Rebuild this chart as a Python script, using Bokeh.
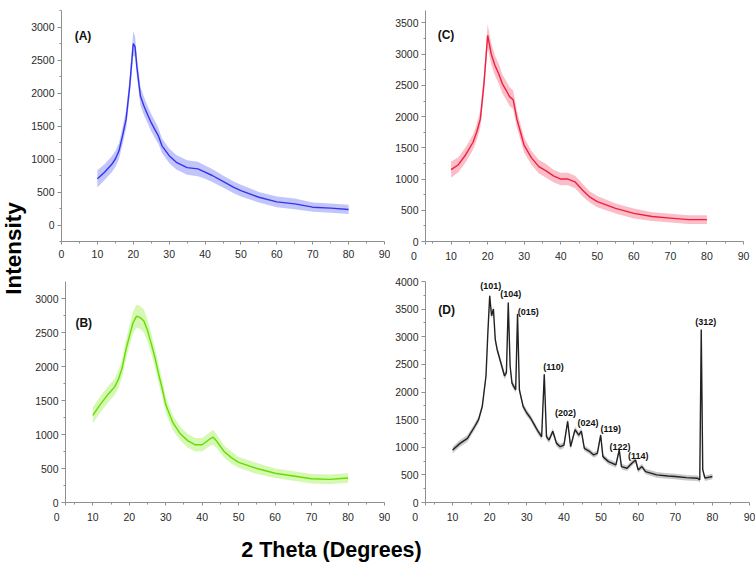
import math
from bokeh.plotting import figure
from bokeh.layouts import row, column
from bokeh.models import Range1d, FixedTicker
from bokeh.core.properties import value
from bokeh.embed import file_html
from bokeh.resources import INLINE

# ---------------- data ----------------
A_x = [10, 12, 14, 15, 16, 17, 18, 19, 20, 20.5, 21, 22, 23, 24, 25, 26, 27, 28, 30, 32,
       35, 38, 40, 42, 45, 48, 50, 55, 60, 65, 70, 75, 80]
A_y = [700, 800, 920, 1000, 1120, 1350, 1600, 2100, 2750, 2700, 2400, 1950, 1800, 1670, 1550,
       1450, 1350, 1200, 1050, 950, 870, 850, 800, 750, 660, 570, 520, 420, 350, 320, 270, 255, 235]
A_s = [130, 120, 120, 120, 120, 130, 140, 150, 180, 160, 150, 140, 140, 130, 130, 130, 120, 110,
       110, 110, 110, 110, 100, 100, 90, 90, 90, 80, 80, 80, 70, 70, 70]

B_x = [10, 12, 14, 16, 17, 18, 19, 20, 21, 22, 23, 24, 25, 26, 27, 28, 29, 30, 31, 32,
       34, 36, 38, 40, 42, 43, 44, 46, 48, 50, 55, 60, 65, 70, 75, 80]
B_y = [1280, 1440, 1580, 1700, 1810, 1970, 2230, 2440, 2640, 2740, 2720, 2670, 2530, 2340, 2140,
       1900, 1680, 1440, 1300, 1170, 1010, 910, 850, 850, 930, 960, 900, 750, 660, 590,
       500, 430, 390, 350, 340, 360]
B_s = [120, 120, 120, 120, 130, 130, 140, 150, 160, 170, 170, 170, 160, 150, 140, 140, 130, 120,
       110, 110, 100, 100, 100, 100, 100, 110, 100, 90, 90, 80, 80, 70, 70, 70, 70, 70]

C_x = [10, 12, 14, 16, 17, 18, 19, 20, 21, 22, 23, 24, 25, 26, 27, 28, 29, 30, 32, 34,
       36, 38, 40, 42, 44, 46, 48, 50, 55, 60, 65, 70, 75, 80]
C_y = [1150, 1230, 1390, 1590, 1750, 1960, 2530, 3300, 3000, 2820, 2690, 2530, 2430, 2320, 2270,
       1960, 1750, 1540, 1340, 1200, 1130, 1050, 1000, 1000, 950, 820, 710, 640, 530, 450,
       400, 375, 350, 350]
C_s = [130, 120, 120, 120, 130, 140, 160, 180, 170, 160, 160, 150, 150, 150, 150, 140, 130, 120,
       110, 110, 110, 100, 100, 100, 100, 100, 90, 90, 80, 80, 70, 70, 70, 70]

D_x = [10, 12, 14, 16, 17, 18, 19, 19.5, 20, 20.5, 21, 21.5, 22, 23, 24, 24.5, 25, 25.5, 26, 27,
       27.5, 28, 29, 30, 31, 32, 33, 34, 34.7, 35.3, 36, 37, 38, 39, 40, 41, 41.8, 43, 44, 44.7,
       45.5, 47, 48, 49, 49.9, 50.5, 52, 54, 54.9, 55.5, 57, 58.3, 59.3, 60, 61, 62, 65, 68, 70, 73,
       76, 76.6, 77, 77.4, 78, 80]
D_y = [950, 1070, 1160, 1380, 1500, 1740, 2290, 3070, 3740, 3380, 3500, 2950, 2770, 2530, 2290,
       2350, 3620, 2470, 2160, 2040, 3410, 2040, 1740, 1620, 1530, 1410, 1290, 1190, 2320, 1190,
       1130, 1290, 1070, 1010, 1040, 1470, 1010, 1320, 1220, 1290, 980, 920, 860, 890, 1220,
       830, 740, 680, 950, 650, 620, 710, 770, 590, 650, 560, 500, 480, 470, 450,
       440, 410, 3130, 590, 440, 470]
D_s = [60, 60, 60, 60, 60, 60, 60, 60, 60, 60, 60, 60, 60, 60, 60, 60, 60, 60, 60, 60,
       60, 60, 60, 60, 55, 55, 55, 55, 55, 55, 55, 55, 55, 55, 55, 55, 55, 55, 55, 55,
       50, 50, 50, 50, 50, 50, 50, 50, 50, 50, 50, 50, 50, 50, 50, 50, 50, 50, 50, 50,
       50, 50, 50, 50, 50, 50]

D_peak_names = ["(101)", "(104)", "(015)", "(110)", "(202)", "(024)", "(119)", "(122)", "(114)", "(312)"]
D_peak_lx = [20.3, 25.7, 30.4, 37.2, 40.4, 46.5, 52.6, 55.1, 60.0, 78.2]
D_peak_ly = [3910, 3770, 3450, 2450, 1620, 1440, 1330, 1000, 850, 3270]

x_ticks = [0, 10, 20, 30, 40, 50, 60, 70, 80, 90]
x_minor = [5, 15, 25, 35, 45, 55, 65, 75, 85]

FONT = "Liberation Sans"
NB = "\u00a0"


def panel(w, h, bl, br, bt, bb, xr, yr, yt, ym, zero_pad=None):
    p = figure(width=w, height=h, x_range=Range1d(*xr), y_range=Range1d(*yr),
               output_backend="svg", toolbar_location=None,
               min_border_left=bl, min_border_right=br, min_border_top=bt, min_border_bottom=bb)
    p.outline_line_color = None
    p.xgrid.visible = False
    p.ygrid.visible = False
    p.background_fill_color = "white"
    p.border_fill_color = "white"
    if zero_pad is None:
        p.xaxis.ticker = FixedTicker(ticks=x_ticks, minor_ticks=x_minor)
    else:
        # the "0" label of these panels sits left of the axis origin
        start = xr[0]
        p.xaxis.ticker = FixedTicker(ticks=[start] + x_ticks[1:], minor_ticks=x_minor)
        p.xaxis.major_label_overrides = {start: "0" + NB * zero_pad}
    p.yaxis.ticker = FixedTicker(ticks=yt, minor_ticks=ym)
    for ax in (p.xaxis[0], p.yaxis[0]):
        ax.axis_line_color = "#8f8f8f"
        ax.major_tick_line_color = "#8f8f8f"
        ax.minor_tick_line_color = "#8f8f8f"
        ax.major_tick_in = 0
        ax.minor_tick_in = 0
        ax.major_label_text_font = FONT
        ax.major_label_text_font_size = "10.5px"
        ax.major_label_text_color = "#2a2a2a"
    p.xaxis.major_tick_out = 3
    p.xaxis.minor_tick_out = 2
    p.xaxis.major_label_standoff = 5
    p.yaxis.major_tick_out = 4
    p.yaxis.minor_tick_out = 2
    p.yaxis.major_label_standoff = 3
    return p


def draw(p, xs, ys, ss, core, halo):
    lo = [y - s for y, s in zip(ys, ss)]
    hi = [y + s for y, s in zip(ys, ss)]
    p.varea(x=xs, y1=lo, y2=hi, fill_color=halo, fill_alpha=0.55)
    p.line(xs, ys, line_color=core, line_width=1.4)


def tag(p, x, y, t, size="12px"):
    p.text(x=[x], y=[y], text=[t], text_font=value(FONT), text_font_style="bold",
           text_font_size=size, text_align="center", text_baseline="middle", text_color="#111111")


yt_A = [0, 500, 1000, 1500, 2000, 2500, 3000]
ym_A = [-250, 250, 750, 1250, 1750, 2250, 2750, 3250]
fA = panel(362, 264, 31, 6, 10, 21, (0, 90), (-250, 3250), yt_A, ym_A)
draw(fA, A_x, A_y, A_s, "#3434ee", "#8f95f6")
tag(fA, 6.0, 2865, "(A)")

yt_C = [0, 500, 1000, 1500, 2000, 2500, 3000, 3500]
ym_C = [250, 750, 1250, 1750, 2250, 2750, 3250]
fC = panel(365, 264, 35, 12, 3, 21, (3.0, 90), (0, 3700), yt_C, ym_C, zero_pad=8)
draw(fC, C_x, C_y, C_s, "#ee1f3f", "#f7889a")
tag(fC, 8.6, 3300, "(C)")

yt_B = [0, 500, 1000, 1500, 2000, 2500, 3000]
ym_B = [250, 750, 1250, 1750, 2250, 2750]
fB = panel(362, 262, 37, 6, 6, 21, (2.5, 90), (0, 3250), yt_B, ym_B, zero_pad=6)
draw(fB, B_x, B_y, B_s, "#66dd00", "#b2f275")
tag(fB, 7.5, 2635, "(B)")

yt_D = [0, 500, 1000, 1500, 2000, 2500, 3000, 3500, 4000]
ym_D = [250, 750, 1250, 1750, 2250, 2750, 3250, 3750]
fD = panel(365, 262, 35, 6, 17, 24, (2.7, 90), (0, 4000), yt_D, ym_D, zero_pad=7)
draw(fD, D_x, D_y, D_s, "#222222", "#9a9a9a")
tag(fD, 8.4, 3485, "(D)")
for nm, lx, ly in zip(D_peak_names, D_peak_lx, D_peak_ly):
    tag(fD, lx, ly, nm, size="9px")

# overall axis titles
ylab = figure(width=28, height=564, x_range=Range1d(0, 28), y_range=Range1d(0, 564),
              output_backend="svg", toolbar_location=None, min_border=0)
ylab.axis.visible = False
ylab.grid.visible = False
ylab.outline_line_color = None
ylab.text(x=[13], y=[316], text=["Intensity"], angle=math.pi / 2, text_font=value(FONT),
          text_font_style="bold", text_font_size="22.5px", text_align="center",
          text_baseline="middle", text_color="#000000")

xlab = figure(width=727, height=38, x_range=Range1d(0, 727), y_range=Range1d(0, 38),
              output_backend="svg", toolbar_location=None, min_border=0)
xlab.axis.visible = False
xlab.grid.visible = False
xlab.outline_line_color = None
xlab.text(x=[303], y=[15], text=["2 Theta (Degrees)"], text_font=value(FONT),
          text_font_style="bold", text_font_size="21.5px", text_align="center",
          text_baseline="middle", text_color="#000000")

layout = row(ylab, column(row(fA, fC), row(fB, fD), xlab))

open("out.html", "w").write(file_html(layout, INLINE))
